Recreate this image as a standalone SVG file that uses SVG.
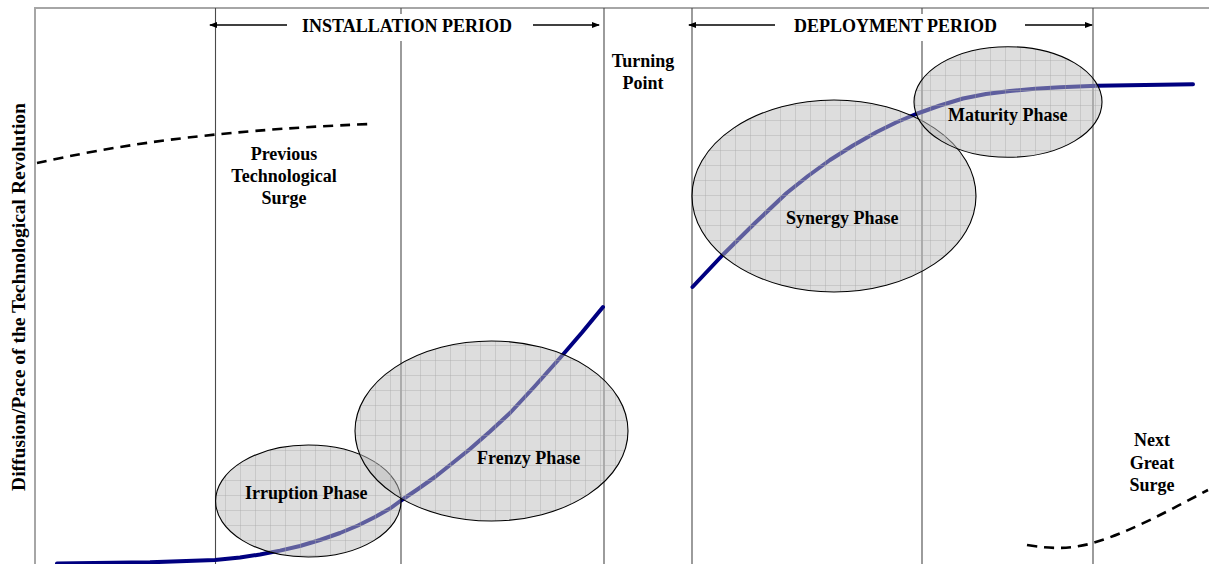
<svg xmlns="http://www.w3.org/2000/svg" width="1209" height="564" viewBox="0 0 1209 564">
<style>
  .lbl { font-family: "Liberation Serif", "Times New Roman", serif; font-weight: bold; font-size: 18px; fill: #000; }
  .mid { text-anchor: middle; }
  .frame { stroke: #a6a6a6; stroke-width: 2; fill: none; }
  .div { stroke: #4a4a4a; stroke-width: 1.1; fill: none; }
  .curve { stroke: #000080; stroke-width: 4; fill: none; stroke-linejoin: round; stroke-linecap: round; }
  .dash { stroke: #000; stroke-width: 2.6; fill: none; stroke-dasharray: 10 7; }
  .arr { stroke: #000; stroke-width: 1.3; fill: none; }
  .shade { fill: #bcbcbc; fill-opacity: 0.5; stroke: none; }
  .outline { fill: url(#grid); stroke: #000; stroke-width: 1.1; }
</style>
<defs>
  <pattern id="grid" patternUnits="userSpaceOnUse" width="15" height="15">
    <path d="M0,0.5 H15 M0.5,0 V15" stroke="#a8a8a8" stroke-opacity="0.4" stroke-width="1" fill="none"/>
  </pattern>
  <marker id="ah" markerWidth="8" markerHeight="6" refX="7" refY="3" orient="auto" markerUnits="userSpaceOnUse">
    <path d="M0,0 L8,3 L0,6 Z" fill="#000"/>
  </marker>
</defs>
<rect x="0" y="0" width="1209" height="564" fill="#fff"/>

<g id="frame">
  <line class="frame" x1="34" y1="8" x2="1209" y2="8"/>
  <line class="frame" x1="35" y1="7" x2="35" y2="564"/>
  <line class="div" x1="215.5" y1="8" x2="215.5" y2="564"/>
  <line class="div" x1="401" y1="8" x2="401" y2="14"/>
  <line class="div" x1="401" y1="41" x2="401" y2="564"/>
  <line class="div" x1="604" y1="8" x2="604" y2="564"/>
  <line class="div" x1="692" y1="8" x2="692" y2="564"/>
  <line class="div" x1="922" y1="8" x2="922" y2="14"/>
  <line class="div" x1="922" y1="41" x2="922" y2="564"/>
  <line class="div" x1="1093" y1="8" x2="1093" y2="564"/>
</g>

<g id="connectors">
  <line class="arr" x1="287" y1="25" x2="210" y2="25" marker-end="url(#ah)"/>
  <line class="arr" x1="533" y1="25" x2="599" y2="25" marker-end="url(#ah)"/>
  <line class="arr" x1="775" y1="25" x2="689" y2="25" marker-end="url(#ah)"/>
  <line class="arr" x1="1025" y1="25" x2="1092" y2="25" marker-end="url(#ah)"/>
  <path class="dash" d="M37,163 C110,147 200,131 370,124"/>
  <path class="dash" d="M1027,545 C1055,550 1075,548 1093,543 C1130,532 1170,510 1208,490"/>
  <polyline class="curve" points="57,563.5 150,562.3 215,560 240,557.5 260,554.5 280,550.6 300,546 320,540 340,533 358,525.5 375,517 390,508.5 401,500.5 418,489 435,477 452,463.5 470,449 490,431.5 510,413 535,386 560,358 582,332.5 603,307"/>
  <polyline class="curve" points="692.5,287 721.7,256 755,223 786.7,193 808,176 830,160 853,145.5 876.7,132 896,122.5 916,114 940,105.5 963,98.5 986,94 1010,91 1035,88.8 1060,87.3 1097,85.7 1193,84.3"/>
</g>

<g id="irruption">
  <ellipse class="shade" cx="308.3" cy="501" rx="92.7" ry="56"/>
  <ellipse class="outline" cx="308.3" cy="501" rx="92.7" ry="56"/>
  <text class="lbl" x="245" y="499">Irruption Phase</text>
</g>
<g id="frenzy">
  <ellipse class="shade" cx="491.5" cy="431" rx="136.5" ry="90"/>
  <ellipse class="outline" cx="491.5" cy="431" rx="136.5" ry="90"/>
  <text class="lbl" x="477" y="464">Frenzy Phase</text>
</g>
<g id="synergy">
  <ellipse class="shade" cx="834" cy="196" rx="142" ry="96"/>
  <ellipse class="outline" cx="834" cy="196" rx="142" ry="96"/>
  <text class="lbl" x="786" y="224">Synergy Phase</text>
</g>
<g id="maturity">
  <ellipse class="shade" cx="1008" cy="102" rx="94" ry="55.3"/>
  <ellipse class="outline" cx="1008" cy="102" rx="94" ry="55.3"/>
  <text class="lbl" x="948" y="121">Maturity Phase</text>
</g>

<g id="installation-period">
  <text class="lbl mid" x="407" y="32">INSTALLATION PERIOD</text>
</g>
<g id="deployment-period">
  <text class="lbl mid" x="895.5" y="32">DEPLOYMENT PERIOD</text>
</g>
<g id="turning-point">
  <text class="lbl mid" x="643" y="67">Turning</text>
  <text class="lbl mid" x="643" y="89">Point</text>
</g>
<g id="previous-surge">
  <text class="lbl mid" x="284" y="160">Previous</text>
  <text class="lbl mid" x="284" y="182">Technological</text>
  <text class="lbl mid" x="284" y="204">Surge</text>
</g>
<g id="next-surge">
  <text class="lbl mid" x="1152" y="446">Next</text>
  <text class="lbl mid" x="1152" y="469">Great</text>
  <text class="lbl mid" x="1152" y="491">Surge</text>
</g>
<g id="axis-label">
  <text class="lbl mid" transform="translate(25,297) rotate(-90)" style="font-size:19.5px" x="0" y="0">Diffusion/Pace of the Technological Revolution</text>
</g>
</svg>
